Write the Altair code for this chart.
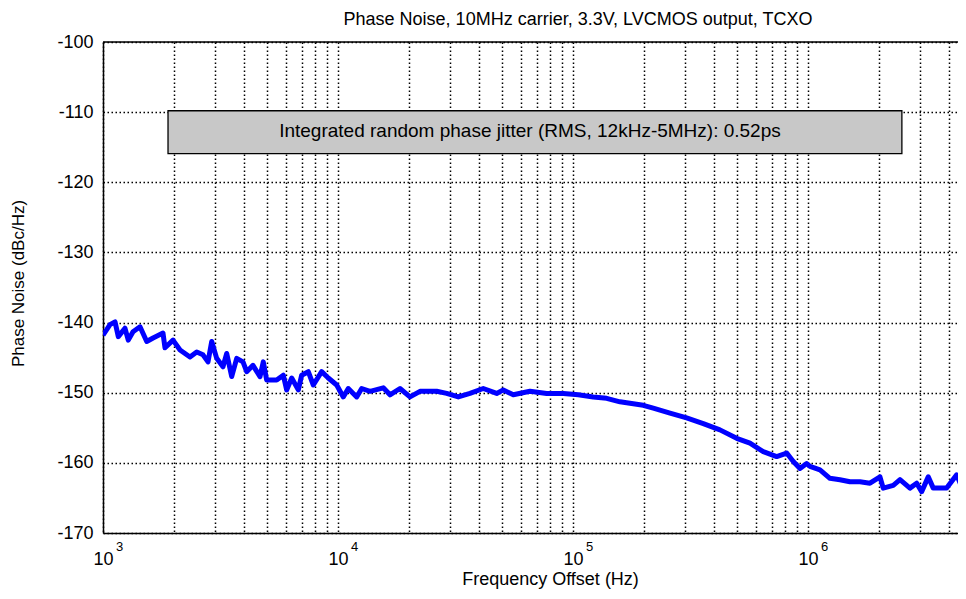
import altair as alt
import pandas as pd

# ---- data ----
freq_hz = [1000, 1071, 1125, 1162, 1240, 1281, 1342, 1437, 1535, 1633, 1800, 1836, 1986,
           2127, 2345, 2505, 2664, 2798, 2902, 3047, 3240, 3361, 3529, 3707, 3942, 4088,
           4347, 4657, 4810, 4973, 5484, 5851, 6048, 6353, 6778, 7007, 7474, 7852, 8522,
           9094, 9874, 10534, 11060, 12013, 12615, 13686, 15587, 16647, 18356, 20248,
           22335, 26303, 29013, 32504, 36448, 41520, 47349, 50525, 55719, 65614, 77286,
           90943, 105340, 122000, 139100, 158500, 199100, 219600, 258700, 304600, 358500,
           422200, 497400, 566500, 645300, 736000, 811900, 866100, 924700, 987400,
           1020000, 1125000, 1240000, 1368000, 1509000, 1665000, 1836000, 2025000,
           2091000, 2307000, 2464000, 2716000, 2901000, 3047000, 3250000, 3414000,
           3892000, 4294000, 4509000, 4657000, 5000000]
phase_noise_dbc = [-141.8, -140.3, -139.9, -142.0, -140.8, -142.5, -141.3, -140.6, -142.7,
                   -142.2, -141.5, -143.6, -142.5, -143.9, -144.9, -144.2, -144.6, -145.6,
                   -142.7, -145.1, -146.3, -144.4, -147.7, -145.1, -145.6, -147.0, -146.1,
                   -147.7, -145.6, -148.2, -148.2, -147.5, -149.6, -147.9, -149.6, -147.5,
                   -147.0, -148.9, -147.0, -147.9, -148.9, -150.6, -149.4, -150.6, -149.4,
                   -149.8, -149.3, -150.3, -149.4, -150.6, -149.8, -149.8, -150.1, -150.6,
                   -150.1, -149.4, -150.1, -149.6, -150.3, -149.8, -150.1, -150.1, -150.3,
                   -150.6, -150.8, -151.3, -151.8, -152.2, -152.9, -153.6, -154.4, -155.3,
                   -156.5, -157.2, -158.4, -159.1, -158.6, -159.8, -160.8, -160.1, -160.5,
                   -161.0, -162.2, -162.4, -162.7, -162.7, -162.9, -162.0, -163.6, -163.2,
                   -162.4, -163.6, -162.9, -164.1, -162.0, -163.6, -163.6, -161.7, -163.4,
                   -163.9, -164.0]

grid_freqs = [1000, 2000, 3000, 4000, 5000, 6000, 7000, 8000, 9000,
              10000, 20000, 30000, 40000, 50000, 60000, 70000, 80000, 90000,
              100000, 200000, 300000, 400000, 500000, 600000, 700000, 800000, 900000,
              1000000, 2000000, 3000000, 4000000]
decades = [1000, 10000, 100000, 1000000]
decade_exponents = ["3", "4", "5", "6"]
y_ticks = [-100, -110, -120, -130, -140, -150, -160, -170]

title_text = "Phase Noise, 10MHz carrier, 3.3V, LVCMOS output, TCXO"
x_title = "Frequency Offset (Hz)"
y_title = "Phase Noise (dBc/Hz)"
note_text = "Integrated random phase jitter (RMS, 12kHz-5MHz): 0.52ps"
note_box_x = [1891, 2510000]
note_box_y = [-109.8, -115.9]
note_pos = [65600, -112.7]
x_domain = [1000, 4350000]
y_domain = [-170, -100]

FONT = "Liberation Sans"
W, H = 855, 491

curve = pd.DataFrame({"f": freq_hz, "db": phase_noise_dbc})
dec_df = pd.DataFrame({"f": decades, "e": decade_exponents})
box_df = pd.DataFrame({"x1": [note_box_x[0]], "x2": [note_box_x[1]],
                       "y1": [note_box_y[0]], "y2": [note_box_y[1]]})
note_df = pd.DataFrame({"f": [note_pos[0]], "db": [note_pos[1]], "t": [note_text]})
title_df = pd.DataFrame({"t": [title_text]})
top_df = pd.DataFrame({"db": [y_domain[1]]})

x_scale = alt.Scale(type="log", domain=x_domain, nice=False)
y_scale = alt.Scale(domain=y_domain, nice=False)

x_axis = alt.Axis(
    values=grid_freqs,
    labelExpr="indexof([1000,10000,100000,1000000], datum.value) >= 0 ? '10' : ''",
    grid=True, gridColor="black", gridDash=[1.5, 2.5], gridWidth=1.5, gridOpacity=1,
    ticks=False, domain=True, domainColor="black", domainWidth=1.5,
    labelFont=FONT, labelFontSize=18, labelColor="black", labelPadding=17,
    labelBaseline="top", labelFlush=False, labelOverlap=False,
    title=x_title, titleFont=FONT, titleFontSize=18, titleFontWeight="normal",
    titleColor="black", titleX=447, titleY=37, titleAlign="center", titleBaseline="top",
)
y_axis = alt.Axis(
    values=y_ticks,
    labelExpr="'' + datum.value",
    grid=True, gridColor="black", gridDash=[1.5, 2.5], gridWidth=1.5, gridOpacity=1,
    ticks=False, domain=True, domainColor="black", domainWidth=1.5,
    labelFont=FONT, labelFontSize=18, labelColor="black", labelPadding=10,
    labelFlush=False, labelOverlap=False,
    title=y_title, titleFont=FONT, titleFontSize=17, titleFontWeight="normal",
    titleColor="black", titleX=-85, titleY=241, titleAngle=270,
    titleAlign="center", titleBaseline="middle",
)

line = alt.Chart(curve).mark_line(color="#0000ff", strokeWidth=5, clip=True,
                                  strokeJoin="round").encode(
    x=alt.X("f:Q", scale=x_scale, axis=x_axis),
    y=alt.Y("db:Q", scale=y_scale, axis=y_axis),
)

top_border = alt.Chart(top_df).mark_rule(color="black", strokeWidth=1.5).encode(
    y=alt.Y("db:Q", scale=y_scale), x=alt.value(0), x2=alt.value(W)
)

box = alt.Chart(box_df).mark_rect(fill="#c8c8c8", stroke="black", strokeWidth=1.3).encode(
    x=alt.X("x1:Q", scale=x_scale), x2="x2:Q",
    y=alt.Y("y1:Q", scale=y_scale), y2="y2:Q",
)

note = alt.Chart(note_df).mark_text(font=FONT, fontSize=19, color="black",
                                    align="center", baseline="middle").encode(
    x=alt.X("f:Q", scale=x_scale), y=alt.Y("db:Q", scale=y_scale), text="t:N"
)

exps = alt.Chart(dec_df).mark_text(font=FONT, fontSize=13, color="black",
                                   align="left", baseline="top", dx=13).encode(
    x=alt.X("f:Q", scale=x_scale), y=alt.value(H + 8), text="e:N"
)

title = alt.Chart(title_df).mark_text(font=FONT, fontSize=18, color="black",
                                      align="center", baseline="alphabetic").encode(
    x=alt.value(475), y=alt.value(-17), text="t:N"
)

chart = alt.layer(top_border, box, note, line, exps, title).properties(
    width=W, height=H,
    autosize=alt.AutoSizeParams(type="none"),
    padding={"left": 95, "top": 34, "right": 0, "bottom": 58},
).configure_view(stroke=None).configure(background="white")

chart.save("out.html", embed_options={"renderer": "svg", "actions": False})
